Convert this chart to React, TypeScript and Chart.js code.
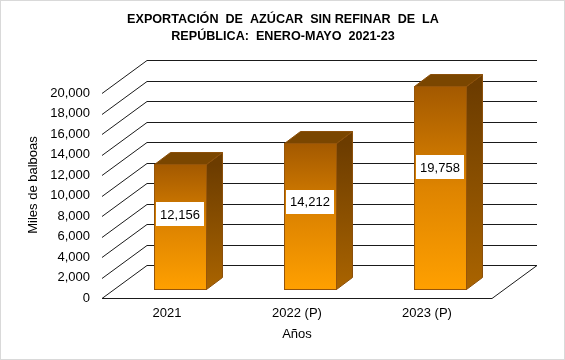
import React, { useEffect, useRef } from "react";
import { Chart, registerables } from "chart.js";

Chart.register(...registerables);

const categories = ["2021", "2022 (P)", "2023 (P)"];
const values = [12156, 14212, 19758];
const yTickValues = [0, 2000, 4000, 6000, 8000, 10000, 12000, 14000, 16000, 18000, 20000];
const titleLines = [
  "EXPORTACIÓN  DE  AZÚCAR  SIN REFINAR  DE  LA",
  "REPÚBLICA:  ENERO-MAYO  2021-23",
];
const yAxisTitle = "Miles de balboas";
const xAxisTitle = "Años";

const FONT = "'Liberation Sans', Arial, sans-serif";
const WALL_DX = 45;
const WALL_DY = 33;
const BAR_OFF_X = 13;
const BAR_OFF_Y = 9;
const BAR_DEPTH_X = 16;
const BAR_DEPTH_Y = 12;
const BAR_HALF = 26;

const fmt = (v: number) => v.toLocaleString("en-US");

const threeD = {
  id: "threeD",
  afterDatasetsDraw(chart: any) {
    const ctx: CanvasRenderingContext2D = chart.ctx;
    const { left, right, bottom } = chart.chartArea;
    const ys = chart.scales.y;
    const xs = chart.scales.x;
    ctx.save();

    // back wall gridlines + slanted side lines
    ctx.strokeStyle = "#1a1a1a";
    ctx.lineWidth = 1;
    yTickValues.forEach((v) => {
      const y = Math.round(ys.getPixelForValue(v)) + 0.5;
      ctx.beginPath();
      ctx.moveTo(left + WALL_DX, y - WALL_DY);
      ctx.lineTo(right + WALL_DX, y - WALL_DY);
      ctx.stroke();
      ctx.beginPath();
      ctx.moveTo(left, y);
      ctx.lineTo(left + WALL_DX, y - WALL_DY);
      ctx.stroke();
    });
    // floor front and right edge
    const fy = Math.round(bottom) + 0.5;
    ctx.beginPath();
    ctx.moveTo(left, fy);
    ctx.lineTo(right, fy);
    ctx.lineTo(right + WALL_DX, fy - WALL_DY);
    ctx.stroke();

    // bars
    values.forEach((v, i) => {
      const cx = xs.getPixelForValue(i) + BAR_OFF_X;
      const xl = Math.round(cx - BAR_HALF) + 0.5;
      const xr = Math.round(cx + BAR_HALF) + 0.5;
      const top = Math.round(ys.getPixelForValue(v) - BAR_OFF_Y) + 0.5;
      const bot = Math.round(ys.getPixelForValue(0) - BAR_OFF_Y) + 0.5;

      // side face
      const sg = ctx.createLinearGradient(0, top, 0, bot);
      sg.addColorStop(0, "rgb(108,60,0)");
      sg.addColorStop(1, "rgb(170,100,0)");
      ctx.fillStyle = sg;
      ctx.beginPath();
      ctx.moveTo(xr, top);
      ctx.lineTo(xr + BAR_DEPTH_X, top - BAR_DEPTH_Y);
      ctx.lineTo(xr + BAR_DEPTH_X, bot - BAR_DEPTH_Y);
      ctx.lineTo(xr, bot);
      ctx.closePath();
      ctx.fill();
      ctx.strokeStyle = "rgb(140,80,10)";
      ctx.stroke();

      // top face
      ctx.fillStyle = "rgb(122,70,0)";
      ctx.beginPath();
      ctx.moveTo(xl, top);
      ctx.lineTo(xl + BAR_DEPTH_X, top - BAR_DEPTH_Y);
      ctx.lineTo(xr + BAR_DEPTH_X, top - BAR_DEPTH_Y);
      ctx.lineTo(xr, top);
      ctx.closePath();
      ctx.fill();
      ctx.stroke();

      // front face
      const fg = ctx.createLinearGradient(0, top, 0, bot);
      fg.addColorStop(0, "rgb(163,89,0)");
      fg.addColorStop(0.5, "rgb(222,132,0)");
      fg.addColorStop(1, "rgb(255,160,0)");
      ctx.fillStyle = fg;
      ctx.fillRect(xl, top, xr - xl, bot - top);
      ctx.strokeStyle = "rgb(150,85,10)";
      ctx.strokeRect(xl, top, xr - xl, bot - top);

      // data label
      const ly = ys.getPixelForValue(v * 0.6) - BAR_OFF_Y;
      const bw = 48;
      const bh = 24;
      ctx.fillStyle = "#ffffff";
      ctx.fillRect(Math.round(cx - bw / 2), Math.round(ly - bh / 2), bw, bh);
      ctx.fillStyle = "#000000";
      ctx.font = `13px ${FONT}`;
      ctx.textAlign = "center";
      ctx.textBaseline = "middle";
      ctx.fillText(fmt(v), cx, ly + 1);
    });

    // titles
    ctx.fillStyle = "#000000";
    ctx.textAlign = "center";
    ctx.textBaseline = "middle";
    ctx.font = `bold 12.6px ${FONT}`;
    titleLines.forEach((t, i) => ctx.fillText(t, 283, 20 + i * 17));

    ctx.font = `13px ${FONT}`;
    ctx.fillText(xAxisTitle, (left + right) / 2, 334);

    ctx.save();
    ctx.translate(33, 185);
    ctx.rotate(-Math.PI / 2);
    ctx.fillText(yAxisTitle, 0, 0);
    ctx.restore();

    // outer border
    ctx.strokeStyle = "#d9d9d9";
    ctx.lineWidth = 1;
    ctx.strokeRect(0.5, 0.5, chart.width - 1, chart.height - 1);
    ctx.restore();
  },
};

export default function App() {
  const ref = useRef<HTMLCanvasElement | null>(null);
  useEffect(() => {
    if (!ref.current) return;
    const chart = new Chart(ref.current, {
      type: "bar",
      data: {
        labels: categories,
        datasets: [
          {
            data: values,
            backgroundColor: "rgba(0,0,0,0)",
            borderWidth: 0,
          },
        ],
      },
      options: {
        responsive: false,
        animation: false,
        events: [],
        layout: { padding: { top: 93, right: 73, left: 0, bottom: 0 } },
        plugins: {
          legend: { display: false },
          tooltip: { enabled: false },
          title: { display: false },
        },
        scales: {
          x: {
            grid: { display: false, drawTicks: false },
            border: { display: false },
            ticks: {
              color: "#000",
              padding: 8,
              font: { family: FONT, size: 13 },
              maxRotation: 0,
            },
            afterFit: (s: any) => {
              s.height = 62;
            },
          },
          y: {
            min: 0,
            max: 20000,
            grid: { display: false, drawTicks: false },
            border: { display: false },
            ticks: {
              stepSize: 2000,
              color: "#000",
              padding: 12,
              font: { family: FONT, size: 13 },
              callback: (v: any) => fmt(Number(v)),
            },
            afterFit: (s: any) => {
              s.width = 102;
            },
          },
        },
      },
      plugins: [threeD],
    });
    return () => chart.destroy();
  }, []);
  return (
    <div style={{ position: "fixed", left: 0, top: 0, width: 565, height: 360, background: "#fff" }}>
      <canvas ref={ref} width={565} height={360} />
    </div>
  );
}
